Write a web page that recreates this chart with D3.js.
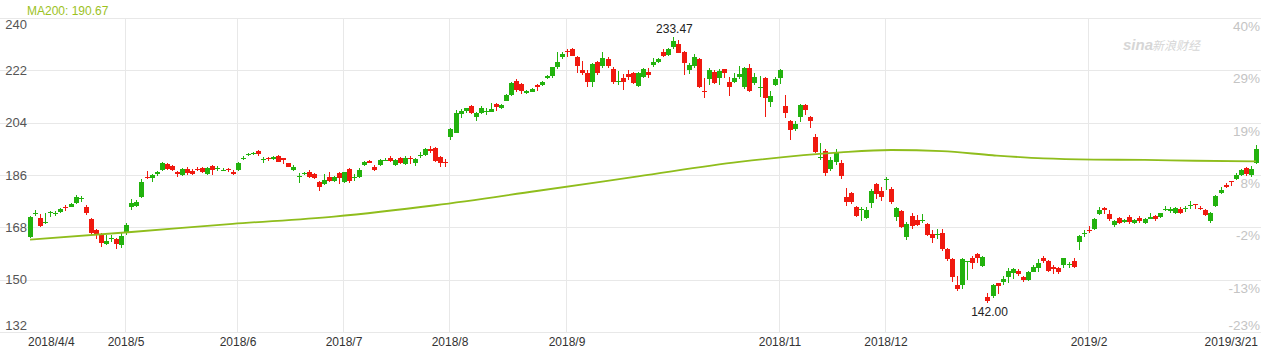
<!DOCTYPE html>
<html>
<head>
<meta charset="utf-8">
<title>日K线</title>
<script src="https://cdn.jsdelivr.net/npm/d3@7/dist/d3.min.js"></script>
<style>
    html, body { margin: 0; padding: 0; background: #fff; }
    svg { display: block; font-family: Arial, "Liberation Sans", sans-serif; }
</style>
</head>
<body>
<script>
var width = 1267, height = 350;

// 日K数据 [开, 高, 低, 收]  2018/4/4 - 2019/3/21
var candles = [
    [164.8,172.0,164.5,171.7],[172.5,174.0,172.0,173.0],[171.1,172.6,168.0,168.3],[169.6,172.8,169.3,170.0],
    [172.8,173.7,171.7,173.2],[172.6,173.6,171.8,173.0],[173.3,174.6,173.0,174.2],[175.0,175.7,173.7,174.8],
    [175.1,176.3,174.9,176.0],[176.5,179.1,176.0,178.5],[177.7,178.8,176.8,178.1],[175.1,175.6,172.3,172.8],
    [170.8,171.2,165.5,166.0],[167.1,167.3,163.9,165.6],[165.6,166.0,161.1,162.7],[162.3,165.4,161.9,163.4],
    [164.0,165.5,163.0,164.3],[163.9,164.2,160.4,162.2],[161.9,166.5,161.0,165.0],[166.2,169.5,165.5,168.8],
    [175.0,177.6,173.8,176.4],[175.5,177.3,174.9,176.8],[178.3,184.5,178.0,183.7],[185.3,187.5,184.5,185.0],
    [184.9,186.3,183.6,186.0],[186.2,187.5,185.8,187.1],[187.7,190.3,187.4,190.0],[189.8,190.2,187.7,188.0],
    [189.1,189.4,187.5,187.8],[187.1,187.4,185.2,186.4],[186.0,188.3,185.8,188.0],[188.1,188.8,186.0,186.6],
    [187.5,187.9,186.0,186.3],[188.1,188.6,187.4,187.8],[188.5,188.8,186.6,186.9],[186.3,188.6,185.9,188.3],
    [189.1,189.4,186.0,187.7],[188.2,189.2,187.4,188.4],[187.6,188.5,187.3,187.8],[187.9,188.3,187.2,187.6],
    [187.1,187.6,186.0,186.4],[187.7,190.3,187.5,190.0],[191.5,192.4,191.0,191.8],[193.0,193.6,192.6,193.3],
    [193.2,193.8,192.9,193.5],[194.3,194.5,192.7,193.3],[191.3,192.3,190.0,191.6],[191.7,192.1,190.9,191.4],
    [191.4,192.6,191.1,192.3],[192.5,192.8,190.3,190.6],[191.7,192.0,189.8,191.0],[190.0,190.2,188.6,188.9],
    [187.7,189.4,187.3,188.9],[185.3,186.8,183.3,185.8],[186.4,187.0,186.1,186.7],[187.2,187.7,185.1,185.4],
    [186.2,186.6,184.6,184.9],[183.7,184.0,180.6,182.0],[182.9,186.2,182.6,184.3],[185.2,186.9,183.6,183.9],
    [183.9,185.6,183.6,185.2],[186.6,187.1,182.9,185.1],[183.5,187.2,183.1,186.9],[188.1,188.3,183.3,183.9],
    [185.0,186.2,183.9,185.3],[185.4,188.4,185.1,187.7],[189.4,190.8,189.1,190.6],[190.9,191.3,190.0,190.2],
    [188.9,189.5,187.4,187.7],[189.4,191.5,189.1,191.2],[191.1,191.7,190.8,191.3],[192.0,192.6,190.6,190.8],
    [189.4,191.6,189.1,191.2],[192.0,192.3,189.7,190.0],[189.7,192.5,189.3,191.7],[191.8,192.5,189.8,191.5],
    [190.0,191.8,189.0,191.5],[192.7,193.8,191.8,193.0],[192.9,195.2,192.5,194.8],[194.9,196.0,193.5,194.4],
    [195.4,195.8,190.5,190.9],[192.3,192.6,188.9,190.1],[190.6,191.5,188.8,190.3],[199.2,202.0,198.0,201.7],
    [200.5,208.4,200.3,207.2],[207.0,208.6,205.5,208.1],[208.0,209.2,207.3,208.9],[209.7,210.0,207.0,207.4],
    [206.0,207.8,204.7,207.4],[207.4,209.6,207.0,208.9],[207.6,209.0,206.5,207.9],[207.8,210.9,207.6,208.7],
    [210.4,210.7,208.1,209.5],[208.9,210.5,208.6,210.1],[211.6,214.0,211.3,213.5],[213.5,218.0,213.3,217.8],
    [218.4,219.0,214.7,215.2],[217.2,217.5,214.0,215.0],[214.1,215.3,213.8,215.0],[214.7,215.8,214.4,215.5],
    [217.0,217.3,215.0,216.2],[217.0,218.4,216.5,218.1],[219.3,220.3,219.0,220.0],[220.0,223.3,219.3,223.0],
    [223.3,228.4,222.6,225.0],[226.5,228.3,226.0,227.6],[228.7,229.2,226.6,228.5],[229.3,229.7,226.8,227.0],
    [226.5,226.8,221.2,223.5],[222.1,225.3,220.4,221.0],[221.2,222.0,216.4,218.1],[218.1,224.6,216.3,224.1],
    [225.0,225.3,220.3,221.2],[223.5,228.4,222.8,226.1],[225.8,226.7,222.8,223.5],[222.3,223.0,217.3,218.1],
    [217.9,221.8,217.0,218.2],[219.3,220.6,215.2,218.1],[220.6,222.0,218.7,219.8],[221.2,221.5,217.3,217.8],
    [216.6,221.5,216.3,221.0],[219.8,222.8,219.5,222.3],[221.5,222.8,219.5,220.4],[223.8,226.2,223.1,225.0],
    [224.8,226.1,224.5,225.8],[228.4,229.2,226.6,226.9],[227.3,229.6,227.0,229.3],[230.1,233.47,229.5,232.1],
    [231.1,232.5,227.8,228.1],[228.4,228.8,220.4,224.4],[222.1,224.5,220.8,223.8],[223.5,227.5,222.8,226.7],
    [225.8,226.1,215.8,216.4],[215.0,219.3,212.4,214.8],[219.0,222.7,217.0,222.1],[221.5,222.0,217.2,217.5],
    [219.3,222.4,216.9,221.9],[222.3,222.6,219.3,221.2],[217.9,219.6,213.2,216.2],[218.1,221.2,217.8,219.3],
    [219.8,223.5,218.9,220.7],[216.2,223.2,215.5,222.7],[222.7,224.2,214.7,215.0],[217.7,221.0,217.0,219.6],
    [216.0,220.0,212.7,216.3],[219.3,219.6,206.0,212.4],[211.2,214.9,209.4,213.2],[217.0,219.7,216.5,218.9],
    [219.3,222.3,217.3,222.1],[209.7,213.5,205.5,207.4],[204.7,205.0,198.0,201.5],[201.8,204.7,201.2,203.5],
    [206.0,210.3,204.2,210.1],[210.1,210.3,206.6,208.4],[206.0,206.3,202.0,204.7],[199.0,200.0,193.5,194.0],
    [191.9,196.9,191.2,192.3],[194.4,195.0,185.7,186.8],[188.0,192.2,187.5,191.2],[190.6,195.0,189.4,193.7],
    [190.2,191.0,184.7,185.7],[178.5,181.4,175.3,176.8],[179.9,180.3,175.9,176.8],[175.1,175.5,171.7,172.0],
    [174.1,175.1,170.2,174.4],[171.3,175.1,170.7,174.0],[176.5,181.1,174.7,180.6],[182.9,183.2,177.6,179.5],
    [180.5,181.9,177.0,178.5],[184.4,185.2,180.8,184.7],[181.1,182.0,176.0,176.8],[171.7,174.9,170.3,174.5],
    [173.6,174.0,167.9,168.2],[164.8,170.0,163.5,169.1],[171.9,173.0,167.3,168.5],[170.5,172.2,168.6,168.8],
    [170.3,172.5,169.4,170.6],[169.1,169.5,165.0,165.4],[165.7,167.1,162.7,164.2],[165.5,167.4,164.0,165.8],
    [165.9,167.4,159.9,160.5],[160.5,161.0,156.5,157.0],[157.1,157.3,149.3,150.8],[148.2,151.3,146.2,146.7],
    [148.2,157.3,146.8,157.0],[156.0,156.5,149.9,156.3],[157.6,158.3,153.6,155.8],[158.7,159.3,155.8,157.6],
    [154.7,158.2,154.3,157.9],[144.1,145.3,142.0,142.5],[144.4,148.5,143.6,148.2],[148.8,149.0,145.0,147.8],
    [149.1,151.2,148.3,150.2],[151.0,153.9,148.8,153.0],[152.4,153.9,150.3,153.6],[153.1,153.6,151.2,151.8],
    [150.8,151.1,149.1,149.9],[149.9,153.0,149.6,152.7],[152.7,155.2,152.5,154.5],[154.1,157.0,152.8,155.6],
    [157.6,158.0,155.7,156.4],[156.5,156.8,152.7,153.1],[154.5,155.1,151.8,153.7],[154.1,154.4,151.8,152.5],
    [155.0,157.6,154.0,157.3],[155.2,156.2,153.9,155.5],[156.5,157.6,153.9,154.5],[163.0,165.3,160.2,165.0],
    [165.8,167.1,164.6,166.1],[167.1,168.6,166.0,166.7],[167.3,171.1,167.0,170.8],[172.6,174.9,172.3,174.0],
    [174.5,175.1,172.6,174.0],[172.6,174.0,170.1,170.8],[168.8,170.6,168.2,170.2],[171.1,171.4,169.1,169.4],
    [169.9,170.9,169.5,170.5],[171.4,172.3,169.3,169.9],[169.4,170.9,169.0,170.5],[171.3,171.9,169.6,170.2],
    [169.6,171.2,169.2,170.9],[171.0,173.0,170.7,171.7],[172.0,172.3,170.2,170.9],[171.4,173.1,171.1,172.8],
    [174.0,175.4,173.5,174.3],[173.6,174.9,173.1,174.4],[173.0,175.1,172.7,174.8],[174.3,174.9,172.7,173.0],
    [174.4,175.2,173.3,174.7],[175.5,177.0,174.4,175.8],[176.0,176.1,174.4,175.6],[174.7,175.2,173.9,174.4],
    [174.0,174.3,171.9,172.2],[170.2,173.3,169.4,173.0],[175.4,179.2,175.0,178.9],[179.7,181.8,179.4,180.8],
    [182.6,183.3,181.4,181.8],[183.8,184.0,182.3,183.6],[184.6,186.7,184.4,186.0],[186.0,188.2,185.7,187.7],
    [188.3,188.6,185.8,186.3],[186.0,189.0,185.3,188.0],[190.0,196.3,189.8,194.9]
];

// MA200 (按交易日序号取样)
var maIdx = [0, 20, 40, 60, 80, 100, 120, 140, 160, 170, 180, 190, 200, 210, 220, 230, 242];
var maVal = [163.8, 166.4, 169.2, 171.7, 175.6, 180.5, 185.5, 190.5, 193.8, 194.6, 194.2, 192.8, 191.7, 191.3, 191.2, 190.9, 190.67];

var yTicks = [132, 150, 168, 186, 204, 222, 240];
var basePrice = 171.5; // 涨跌幅基准
var xTickIdx = [0, 19, 41, 62, 83, 106, 148, 169, 209, 242];
var xTickLabel = ['2018/4/4', '2018/5', '2018/6', '2018/7', '2018/8', '2018/9', '2018/11', '2018/12', '2019/2', '2019/3/21'];

var upColor = '#22b20e', downColor = '#f0190f', maColor = '#8fbd1c', gridColor = '#e8e8e8';

var svg = d3.select('body').append('svg').attr('width', width).attr('height', height);

var x = d3.scaleLinear().domain([0, candles.length - 1]).range([30, 1256]);
var y = d3.scaleLinear().domain([132, 240]).range([332, 18]);

var gGrid = svg.append('g').attr('shape-rendering', 'crispEdges');
gGrid.selectAll('.hline').data(yTicks).enter().append('line').attr('class', 'hline')
    .attr('x1', 0).attr('x2', 1261)
    .attr('y1', function (d) { return Math.round(y(d)) + 0.5; })
    .attr('y2', function (d) { return Math.round(y(d)) + 0.5; })
    .attr('stroke', gridColor);
gGrid.selectAll('.vline').data(xTickIdx.slice(1, -1)).enter().append('line').attr('class', 'vline')
    .attr('x1', function (d) { return Math.round(x(d)) - 0.5; })
    .attr('x2', function (d) { return Math.round(x(d)) - 0.5; })
    .attr('y1', y(240)).attr('y2', y(132))
    .attr('stroke', gridColor);

// 水印
svg.append('text').attr('x', 1123).attr('y', 50).attr('font-size', 15).attr('font-weight', 'bold')
    .attr('font-style', 'italic').attr('fill', '#d6d6d6').text('sina');
svg.append('text').attr('x', 1152).attr('y', 50).attr('font-size', 12).attr('font-style', 'italic')
    .attr('font-family', '"Noto Sans CJK SC", sans-serif').attr('fill', '#d6d6d6').text('新浪财经');

// 左轴
svg.selectAll('.yl').data(yTicks).enter().append('text').attr('class', 'yl')
    .attr('x', 27).attr('text-anchor', 'end').attr('font-size', 13).attr('fill', '#555')
    .attr('y', function (d) {
        if (d === 240) return y(d) + 11;
        if (d === 132) return y(d) - 2;
        return y(d) + 4.5;
    })
    .text(function (d) { return d; });

// 右轴 涨跌幅
svg.selectAll('.yr').data(yTicks).enter().append('text').attr('class', 'yr')
    .attr('x', 1260).attr('text-anchor', 'end').attr('font-size', 13.5).attr('fill', '#c4c4c4')
    .attr('y', function (d) { return d === 132 ? y(d) - 2 : y(d) + 13; })
    .text(function (d) { return Math.round((d / basePrice - 1) * 100) + '%'; });

// 时间轴
svg.selectAll('.xl').data(xTickIdx).enter().append('text').attr('class', 'xl')
    .attr('x', function (d, i) {
        if (i === 0) return 28;
        if (i === xTickIdx.length - 1) return 1258;
        return Math.round(x(d));
    })
    .attr('y', 346).attr('font-size', 12).attr('fill', '#333')
    .attr('text-anchor', function (d, i) {
        if (i === 0) return 'start';
        if (i === xTickIdx.length - 1) return 'end';
        return 'middle';
    })
    .text(function (d, i) { return xTickLabel[i]; });

// K线
var gK = svg.append('g').attr('shape-rendering', 'crispEdges');
var k = gK.selectAll('.k').data(candles).enter().append('g').attr('class', 'k');
k.append('rect')
    .attr('x', function (d, i) { return Math.round(x(i)); })
    .attr('width', 1)
    .attr('y', function (d) { return y(d[1]); })
    .attr('height', function (d) { return Math.max(1, y(d[2]) - y(d[1])); })
    .attr('fill', function (d) { return d[3] >= d[0] ? upColor : downColor; });
k.append('rect')
    .attr('x', function (d, i) { return Math.round(x(i)) - 2; })
    .attr('width', 5)
    .attr('y', function (d) { return y(Math.max(d[0], d[3])); })
    .attr('height', function (d) { return Math.max(1, Math.abs(y(d[0]) - y(d[3]))); })
    .attr('fill', function (d) { return d[3] >= d[0] ? upColor : downColor; });

// MA200
var maLine = d3.line()
    .x(function (d, i) { return x(maIdx[i]); })
    .y(function (d) { return y(d); })
    .curve(d3.curveMonotoneX);
svg.append('path').attr('d', maLine(maVal)).attr('fill', 'none')
    .attr('stroke', maColor).attr('stroke-width', 1.8);

svg.append('text').attr('x', 27).attr('y', 15).attr('font-size', 12).attr('fill', '#9cc21e')
    .text('MA200: ' + maVal[maVal.length - 1].toFixed(2));

// 最高/最低标注
var hiIdx = d3.maxIndex(candles, function (d) { return d[1]; });
var loIdx = d3.minIndex(candles, function (d) { return d[2]; });
svg.append('text').attr('x', x(hiIdx) + 1).attr('y', y(candles[hiIdx][1]) - 4)
    .attr('text-anchor', 'middle').attr('font-size', 12).attr('fill', '#222')
    .text(candles[hiIdx][1].toFixed(2));
svg.append('text').attr('x', x(loIdx) + 2).attr('y', y(candles[loIdx][2]) + 13)
    .attr('text-anchor', 'middle').attr('font-size', 12).attr('fill', '#222')
    .text(candles[loIdx][2].toFixed(2));
</script>
</body>
</html>
